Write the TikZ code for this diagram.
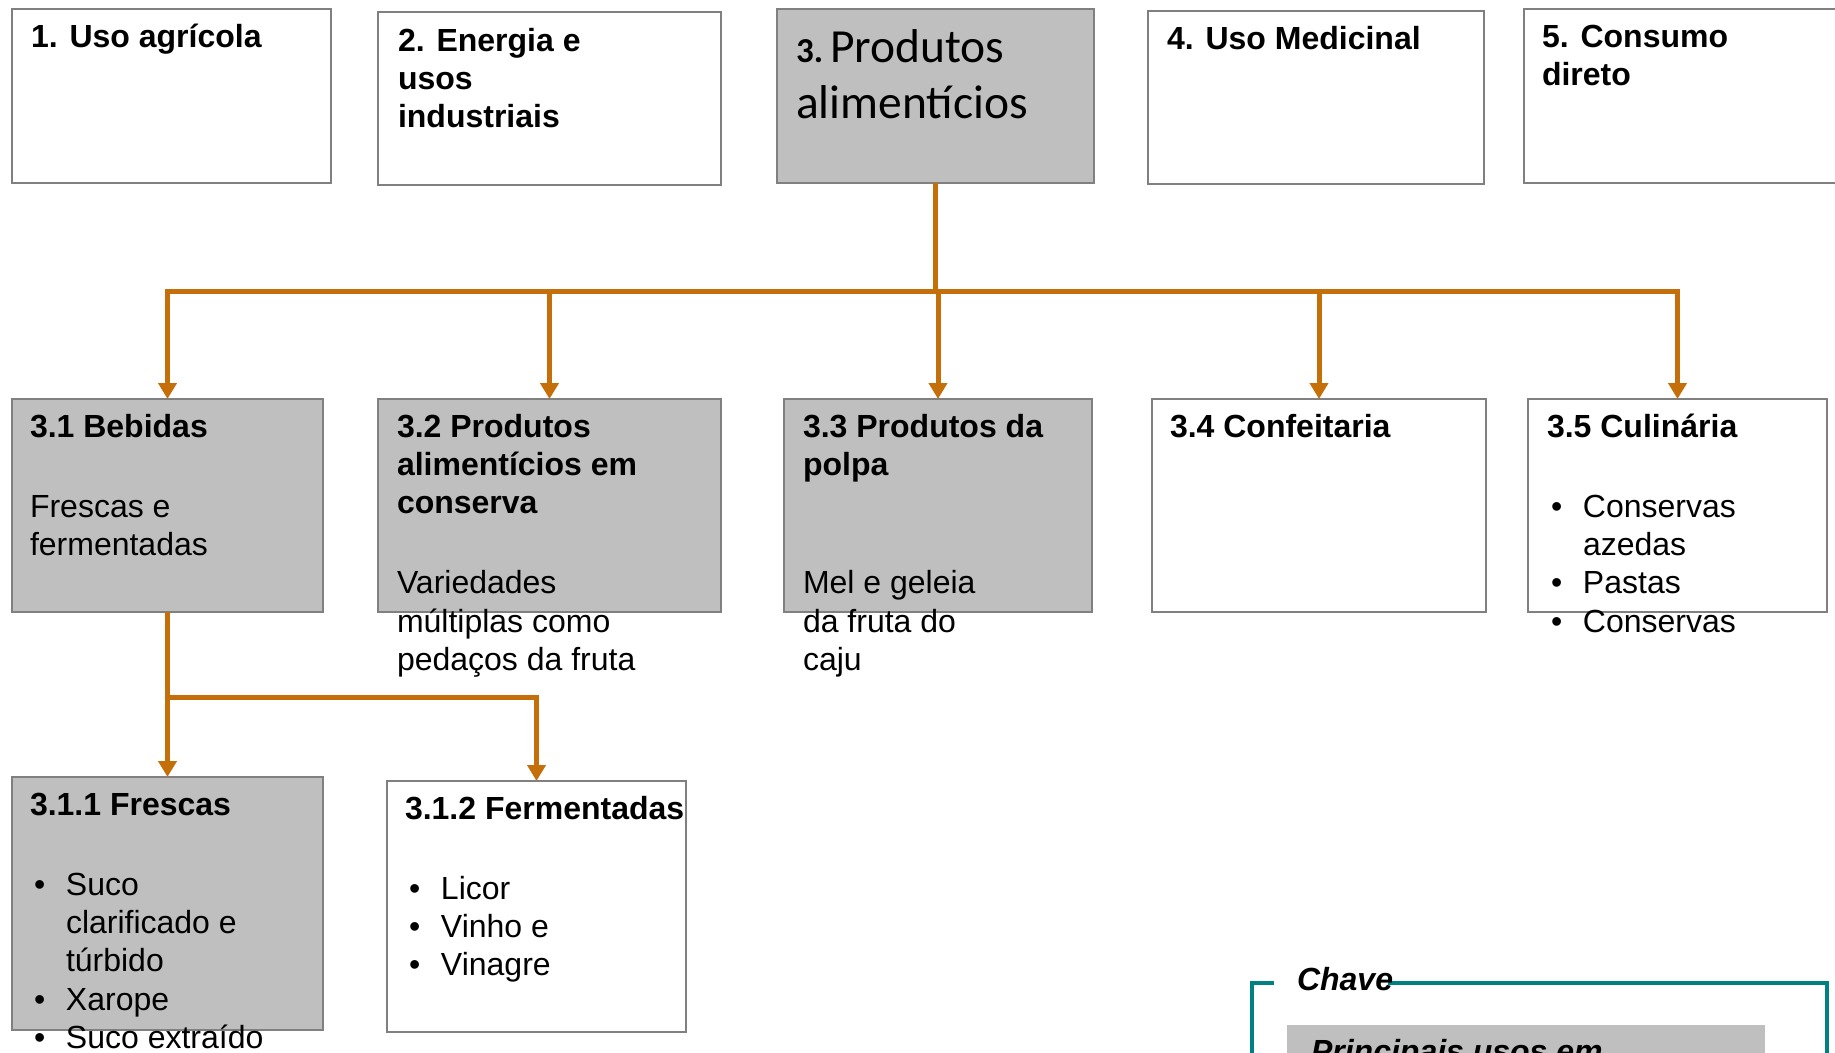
\documentclass[tikz,border=0pt]{standalone}
\usepackage{fontspec}
\setmainfont{Liberation Sans}
\newfontfamily\calibri{Carlito}
\usetikzlibrary{arrows.meta}
\definecolor{orangeline}{RGB}{197,111,10}
\definecolor{boxgray}{RGB}{191,191,191}
\definecolor{bordergray}{RGB}{128,128,128}
\definecolor{tealline}{RGB}{0,128,128}
\newcommand{\bitem}[1]{\hspace*{4pt}\makebox[32pt][l]{•}#1}
\newcommand{\bcont}[1]{\hspace*{36pt}#1}
\newcommand{\ptext}[1]{\parbox[t]{520pt}{\raggedright #1}}
\newcommand{\gapline}{\\[\dimexpr\baselineskip+3.5pt\relax]}
\begin{document}
\begin{tikzpicture}[x=1pt,y=-1pt,
  box/.style={draw=bordergray, line width=2pt, fill=white, inner sep=0pt, outer sep=0pt, anchor=north west},
  grbox/.style={box, fill=boxgray},
  txt/.style={anchor=base west, inner sep=0pt, outer sep=0pt, font=\fontsize{32}{38.3}\selectfont},
  conn/.style={draw=orangeline, line width=5pt},
  arr/.style={conn, -{Triangle[width=18pt,length=16pt]}},
  keyline/.style={draw=tealline, line width=4pt}
]
\useasboundingbox (0,0) rectangle (1835,1052);
\fill[white] (0,0) rectangle (1835,1052);

% top row
\node[box, minimum width=319pt, minimum height=174pt] (b1) at (12,9) {};
\node[box, minimum width=343pt, minimum height=173pt] (b2) at (378,12) {};
\node[grbox, minimum width=317pt, minimum height=174pt] (b3) at (777,9) {};
\node[box, minimum width=336pt, minimum height=173pt] (b4) at (1148,11) {};
\node[box, minimum width=313pt, minimum height=174pt] (b5) at (1524,9) {};

% second row
\node[grbox, minimum width=311pt, minimum height=213pt] (b31) at (12,399) {};
\node[grbox, minimum width=343pt, minimum height=213pt] (b32) at (378,399) {};
\node[grbox, minimum width=308pt, minimum height=213pt] (b33) at (784,399) {};
\node[box, minimum width=334pt, minimum height=213pt] (b34) at (1152,399) {};
\node[box, minimum width=299pt, minimum height=213pt] (b35) at (1528,399) {};

% third row
\node[grbox, minimum width=311pt, minimum height=253pt] (b311) at (12,777) {};
\node[box, minimum width=299pt, minimum height=251pt] (b312) at (387,781) {};

% connectors
\coordinate (j) at (935.5,291);
\draw[conn] (b3.south) -- (j);
\draw[arr] (j) -| (b31.north);
\draw[arr] (j) -| (b32.north);
\draw[arr] (j) -| (b33.north);
\draw[arr] (j) -| (b34.north);
\draw[arr] (j) -| (b35.north);
\coordinate (k) at (167.5,697);
\draw[arr] (b31.south) -- (b311.north);
\draw[arr] (k) -| (b312.north);

% key frame
\fill[boxgray] (1287,1025) rectangle (1765,1080);
\draw[keyline] (1252,1060) -- (1252,983) -- (1274,983);
\draw[keyline] (1388,983) -- (1827,983) -- (1827,1060);

% texts
\node[txt] (t1) at (31,47) {\ptext{\bfseries 1. Uso agrícola}};
\node[txt] (t2) at (398,51) {\ptext{\bfseries 2. Energia e\\usos\\industriais}};
\node[anchor=base west, inner sep=0pt, outer sep=0pt, font=\calibri\fontsize{47.5}{56.5}\selectfont] (t3) at (796,62)
  {\ptext{{\fontsize{35}{56.5}\selectfont\bfseries 3.}\hspace{7pt}Produtos\\alimentícios}};
\node[txt] (t4) at (1167,49) {\ptext{\bfseries 4. Uso Medicinal}};
\node[txt] (t5) at (1542,47) {\ptext{\bfseries 5. Consumo\\direto}};

\node[txt] (t31) at (30,437) {\ptext{{\bfseries 3.1 Bebidas}\gapline Frescas e\\fermentadas}};
\node[txt] (t32) at (397,437) {\ptext{{\bfseries 3.2 Produtos\\alimentícios em\\conserva}\gapline Variedades\\múltiplas como\\pedaços da fruta}};
\node[txt] (t33) at (803,437) {\ptext{{\bfseries 3.3 Produtos da\\polpa}\\[\dimexpr2\baselineskip+3.5pt\relax]Mel e geleia\\da fruta do\\caju}};
\node[txt] (t34) at (1170,437) {\ptext{\bfseries 3.4 Confeitaria}};
\node[txt] (t35) at (1547,437) {\ptext{{\bfseries 3.5 Culinária}\gapline\bitem{Conservas}\\\bcont{azedas}\\\bitem{Pastas}\\\bitem{Conservas}}};

\node[txt] (t311) at (30,815) {\ptext{{\bfseries 3.1.1 Frescas}\gapline\bitem{Suco}\\\bcont{clarificado e}\\\bcont{túrbido}\\\bitem{Xarope}\\\bitem{Suco extraído}}};
\node[txt] (t312) at (405,819) {\ptext{{\bfseries 3.1.2 Fermentadas}\gapline\bitem{Licor}\\\bitem{Vinho e}\\\bitem{Vinagre}}};

\node[txt] (tkey) at (1297,990) {\bfseries\itshape Chave};
\node[txt] (tkey2) at (1311,1062) {\bfseries\itshape Principais usos em};
\end{tikzpicture}
\end{document}
